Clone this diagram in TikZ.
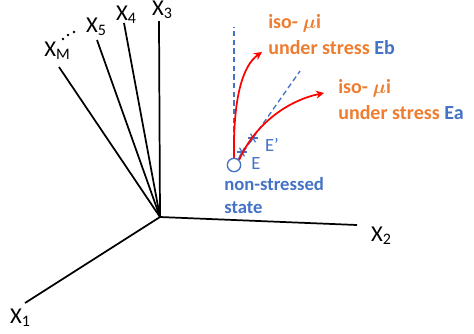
\documentclass[tikz,border=0pt]{standalone}
\usepackage{amsmath}
\usepackage{fontspec}
\setmainfont{Carlito}
\usepackage{xcolor}
\usetikzlibrary{arrows.meta}
\definecolor{isoorange}{HTML}{ED7D31}
\definecolor{stateblue}{HTML}{4472C4}
\newcommand{\axsub}[1]{\raisebox{-0.25ex}{\fontsize{12}{14}\selectfont #1}}

\begin{document}
\begin{tikzpicture}[x=0.75pt, y=-0.75pt, >={Stealth[length=6pt,width=6pt]},
  axis/.style={line width=1.3pt},
  axlabel/.style={inner sep=0pt, font=\fontsize{17}{19}\selectfont},
  guide/.style={stateblue, dash pattern=on 4pt off 2.5pt, line width=1pt},
  iso/.style={red, line width=1.3pt, ->},
  elabel/.style={stateblue, inner sep=0pt, font=\fontsize{14}{16}\selectfont},
  isotext/.style={isoorange, inner sep=0pt, anchor=north west, align=left, font=\bfseries\fontsize{15}{19.5}\selectfont}]
  \useasboundingbox (0,0) rectangle (474,333);
  % axes
  \coordinate (O) at (160,217);
  \coordinate (e1) at (25,303);
  \coordinate (e2) at (357,225);
  \coordinate (e3) at (159,21);
  \coordinate (e4) at (124,23);
  \coordinate (e5) at (97,40);
  \coordinate (eM) at (59,67);
  \node[axlabel] (x1) at (20,318) {X\axsub{1}};
  \node[axlabel] (x2) at (381,236) {X\axsub{2}};
  \node[axlabel] (x3) at (162,10) {X\axsub{3}};
  \node[axlabel] (x4) at (126,15) {X\axsub{4}};
  \node[axlabel] (x5) at (96,27) {X\axsub{5}};
  \node[axlabel] (xM) at (57,51) {X\axsub{M}};
  \foreach \p in {(63,39),(68,35),(74,32)}
    \fill \p circle (1.3);
  \foreach \e in {e1,e2,e3,e4,e5,eM}
    \draw[axis] (O) -- (\e);
  % non-stressed state
  \node[draw=stateblue, circle, line width=1pt, minimum size=10pt, inner sep=0pt] (s0) at (234,165) {};
  \coordinate (tb) at (234,27);
  \coordinate (ta) at (300,71);
  \draw[guide] (s0) -- (tb);
  \draw[guide] (s0) -- (ta);
  \coordinate (E) at (242,152);
  \coordinate (Ep) at (253,138);
  \foreach \c in {E,Ep}
    \foreach \a in {0,60,120}
      \draw[stateblue, line width=0.9pt] (\c) ++(\a:5) -- ++(\a+180:10);
  \node[elabel] (Elab) at (256,164) {E};
  \node[elabel] (Eplab) at (272,145) {E'};
  \node[stateblue, inner sep=0pt, anchor=north west, align=left, font=\bfseries\fontsize{14}{17}\selectfont] (st) at (224,177) {non-stressed\\state};
  % iso-mu curves
  \coordinate (hb) at (262,52);
  \coordinate (ha) at (324,93);
  \draw[iso] (s0.north) .. controls (233,100) and (242,66) .. (hb);
  \draw[iso] (s0.north east) .. controls (256,122) and (290,100) .. (ha);
  \node[isotext] (tEb) at (268,14) {iso- $\boldsymbol{\mu}$i\\under stress \textcolor{stateblue}{Eb}};
  \node[isotext] (tEa) at (338,79) {iso- $\boldsymbol{\mu}$i\\under stress \textcolor{stateblue}{Ea}};
\end{tikzpicture}
\end{document}
